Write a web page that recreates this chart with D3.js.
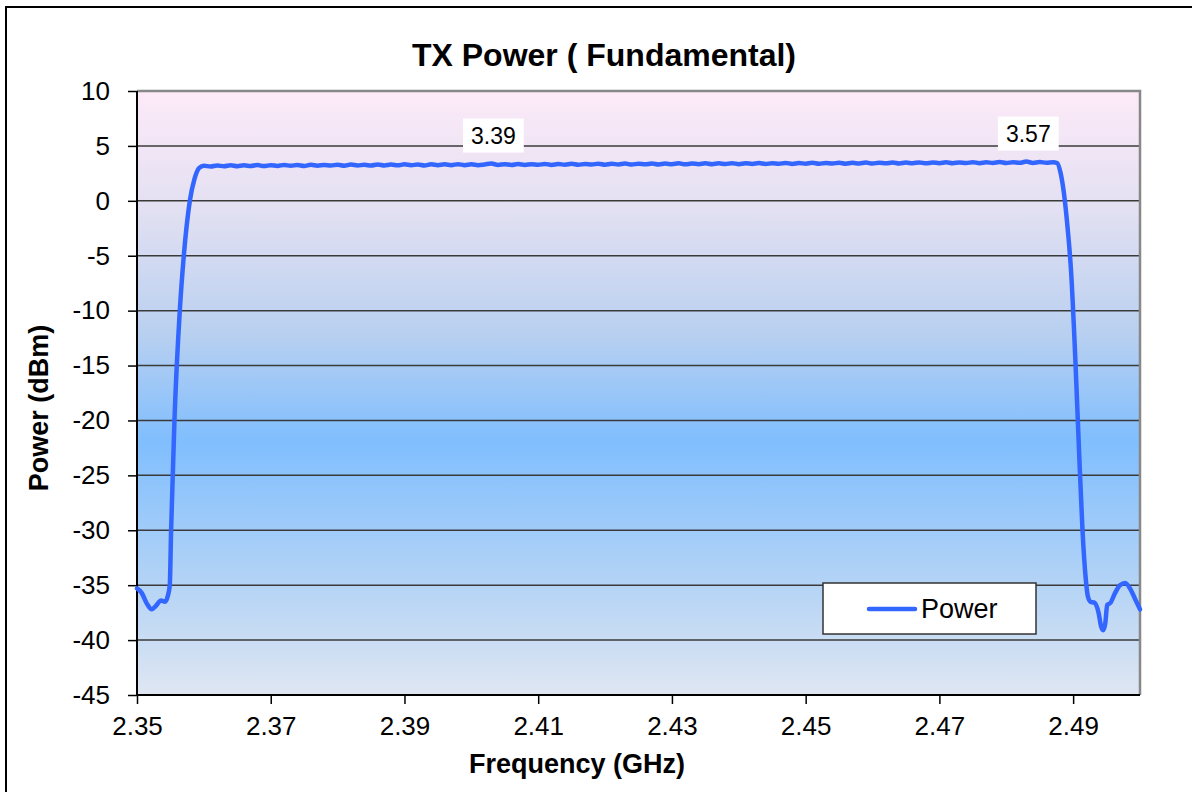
<!DOCTYPE html>
<html><head><meta charset="utf-8">
<script src="https://cdn.jsdelivr.net/npm/d3@7/dist/d3.min.js"></script>
<style>
html,body{margin:0;padding:0;background:#fff;}
svg text{font-family:"Liberation Sans",Arial,sans-serif;}
</style></head>
<body>
<svg id="c" width="1192" height="792"></svg>
<script>
// ---- data ----
const chartTitle = "TX Power ( Fundamental)";
const xTitle = "Frequency (GHz)";
const yTitle = "Power (dBm)";
const seriesName = "Power";
const xTicks = [2.35, 2.37, 2.39, 2.41, 2.43, 2.45, 2.47, 2.49];
const yTicks = [10, 5, 0, -5, -10, -15, -20, -25, -30, -35, -40, -45];

const freqLow = [2.3500, 2.3507, 2.3515, 2.3522, 2.3528, 2.3536, 2.3542, 2.3546, 2.3549, 2.3551, 2.3556, 2.3564, 2.3570, 2.3579, 2.3586, 2.3593];
const powerLow = [-35.3, -35.7, -36.7, -37.2, -36.9, -36.4, -36.5, -36.0, -35.0, -30.0, -20.0, -10.0, -5.0, 0.0, 2.0, 3.0];

const freqFlat = [2.360,2.361,2.362,2.363,2.364,2.365,2.366,2.367,2.368,2.369,
 2.370,2.371,2.372,2.373,2.374,2.375,2.376,2.377,2.378,2.379,
 2.380,2.381,2.382,2.383,2.384,2.385,2.386,2.387,2.388,2.389,
 2.390,2.391,2.392,2.393,2.394,2.395,2.396,2.397,2.398,2.399,
 2.400,2.401,2.402,2.403,2.404,2.405,2.406,2.407,2.408,2.409,
 2.410,2.411,2.412,2.413,2.414,2.415,2.416,2.417,2.418,2.419,
 2.420,2.421,2.422,2.423,2.424,2.425,2.426,2.427,2.428,2.429,
 2.430,2.431,2.432,2.433,2.434,2.435,2.436,2.437,2.438,2.439,
 2.440,2.441,2.442,2.443,2.444,2.445,2.446,2.447,2.448,2.449,
 2.450,2.451,2.452,2.453,2.454,2.455,2.456,2.457,2.458,2.459,
 2.460,2.461,2.462,2.463,2.464,2.465,2.466,2.467,2.468,2.469,
 2.470,2.471,2.472,2.473,2.474,2.475,2.476,2.477,2.478,2.479,
 2.480,2.481,2.482,2.483,2.484,2.485,2.486,2.487];
const powerFlat = [3.20,3.12,3.22,3.14,3.24,3.15,3.23,3.17,3.26,3.16,
 3.25,3.18,3.27,3.19,3.26,3.17,3.28,3.20,3.27,3.21,
 3.29,3.20,3.30,3.22,3.28,3.21,3.31,3.22,3.30,3.23,
 3.32,3.24,3.31,3.22,3.33,3.25,3.32,3.24,3.34,3.25,
 3.33,3.25,3.31,3.39,3.27,3.34,3.26,3.35,3.27,3.34,
 3.28,3.36,3.27,3.35,3.29,3.37,3.28,3.36,3.30,3.38,
 3.29,3.37,3.31,3.39,3.30,3.38,3.32,3.40,3.31,3.39,
 3.33,3.41,3.32,3.40,3.34,3.42,3.33,3.41,3.35,3.43,
 3.34,3.42,3.36,3.44,3.35,3.43,3.37,3.45,3.36,3.44,
 3.38,3.46,3.37,3.45,3.39,3.47,3.38,3.46,3.40,3.48,
 3.39,3.47,3.41,3.49,3.40,3.48,3.42,3.50,3.41,3.49,
 3.43,3.51,3.42,3.50,3.44,3.52,3.43,3.51,3.45,3.53,
 3.44,3.52,3.46,3.57,3.45,3.53,3.47,3.52];

const freqHigh = [2.4876, 2.4881, 2.4886, 2.4891, 2.4897, 2.4903, 2.4909, 2.4914, 2.4919, 2.4922, 2.4926, 2.4932, 2.4938, 2.4942, 2.4945, 2.4948, 2.4951, 2.4956, 2.4962, 2.4970, 2.4978, 2.4986, 2.4993, 2.5000];
const powerHigh = [3.44, 2.6, 0.8, -2.0, -6.5, -14.0, -23.0, -30.0, -34.5, -36.0, -36.5, -36.6, -37.5, -38.8, -39.1, -38.5, -36.8, -36.6, -35.8, -35.0, -34.8, -35.4, -36.3, -37.2];

const labelFreqs = [2.403, 2.483];
const labelTexts = ["3.39", "3.57"];

// ---- layout ----
const svg = d3.select("#c");
const L = 137, T = 91, R = 1140, B = 695;
const x = d3.scaleLinear().domain([2.35, 2.50]).range([L, R]);
const y = d3.scaleLinear().domain([-45, 10]).range([B, T]);

const freq = freqLow.concat(freqFlat, freqHigh);
const power = powerLow.concat(powerFlat, powerHigh);
const data = freq.map((f, i) => ({f, p: power[i]}));

// outer border
svg.append("rect").attr("x", 6).attr("y", 7).attr("width", 1200).attr("height", 800)
  .attr("fill", "#fff").attr("stroke", "#000").attr("stroke-width", 2);

// gradient background
const defs = svg.append("defs");
const g = defs.append("linearGradient").attr("id", "bg").attr("x1", 0).attr("y1", 0).attr("x2", 0).attr("y2", 1);
[[0, "#fdeaf8"], [0.2, "#e2e0f2"], [0.4, "#b9d0f0"], [0.58, "#80befe"], [0.8, "#b0d2f6"], [1, "#dfe6f2"]]
  .forEach(([o, c]) => g.append("stop").attr("offset", o).attr("stop-color", c));
svg.append("rect").attr("x", L).attr("y", T).attr("width", R - L).attr("height", B - T).attr("fill", "url(#bg)");

// gridlines
svg.append("g").selectAll("line").data(yTicks.filter(v => v > -45 && v < 10)).join("line")
  .attr("x1", L).attr("x2", R).attr("y1", d => y(d)).attr("y2", d => y(d))
  .attr("stroke", "#3a3a3a").attr("stroke-width", 1.5);

// plot border (top/right)
svg.append("path").attr("d", `M${L},${T}H${R}V${B}`).attr("fill", "none").attr("stroke", "#888").attr("stroke-width", 2.5);

// axes
const yAxis = d3.axisLeft(y).tickValues(yTicks).tickSize(9).tickPadding(18).tickFormat(d => String(d));
const gy = svg.append("g").attr("transform", `translate(${L},0)`).call(yAxis);
const xAxis = d3.axisBottom(x).tickValues(xTicks).tickSize(9).tickPadding(13).tickFormat(d3.format(".2f"));
const gx = svg.append("g").attr("transform", `translate(0,${B})`).call(xAxis);
[gx, gy].forEach(a => {
  a.select(".domain").attr("stroke", "#000").attr("stroke-width", 2);
  a.selectAll(".tick line").attr("stroke", "#000").attr("stroke-width", 1.5);
  a.selectAll(".tick text").attr("font-size", 26).attr("fill", "#000").attr("font-family", "Liberation Sans, Arial, sans-serif");
});
gx.select(".domain").attr("d", `M${L},0H${R}`);
gy.select(".domain").attr("d", `M0,${T}V${B}`);
gx.selectAll(".tick text").attr("dy", "0.71em");

// line
const line = d3.line().x(d => x(d.f)).y(d => y(d.p)).curve(d3.curveMonotoneX);
svg.append("path").datum(data).attr("d", line).attr("fill", "none")
  .attr("stroke", "#3366ff").attr("stroke-width", 4.5).attr("stroke-linejoin", "round").attr("stroke-linecap", "round");

// data labels
labelFreqs.forEach((f, i) => {
  const idx = freq.indexOf(f);
  const px = x(f), py = y(power[idx]);
  const gl = svg.append("g");
  const t = gl.append("text").attr("x", px + 2).attr("y", py - 20).attr("text-anchor", "middle")
    .attr("font-size", 23).attr("fill", "#000").text(labelTexts[i]);
  const bb = t.node().getBBox();
  gl.insert("rect", "text").attr("x", bb.x - 8).attr("y", bb.y - 4).attr("width", bb.width + 16).attr("height", bb.height + 8).attr("fill", "#fff");
});

// title
svg.append("text").attr("x", 604).attr("y", 66).attr("text-anchor", "middle")
  .attr("font-size", 32).attr("font-weight", "bold").text(chartTitle);
svg.append("text").attr("x", 577).attr("y", 773).attr("text-anchor", "middle")
  .attr("font-size", 27).attr("font-weight", "bold").text(xTitle);
svg.append("text").attr("transform", "translate(48,408) rotate(-90)").attr("text-anchor", "middle")
  .attr("font-size", 27).attr("font-weight", "bold").text(yTitle);

// legend
svg.append("rect").attr("x", 823).attr("y", 583).attr("width", 213).attr("height", 51)
  .attr("fill", "#fff").attr("stroke", "#333").attr("stroke-width", 1.5);
svg.append("line").attr("x1", 869).attr("x2", 915).attr("y1", 609).attr("y2", 609)
  .attr("stroke", "#3366ff").attr("stroke-width", 4.5).attr("stroke-linecap", "round");
svg.append("text").attr("x", 921).attr("y", 618).attr("font-size", 27).attr("fill", "#000").text(seriesName);
</script>
</body></html>
